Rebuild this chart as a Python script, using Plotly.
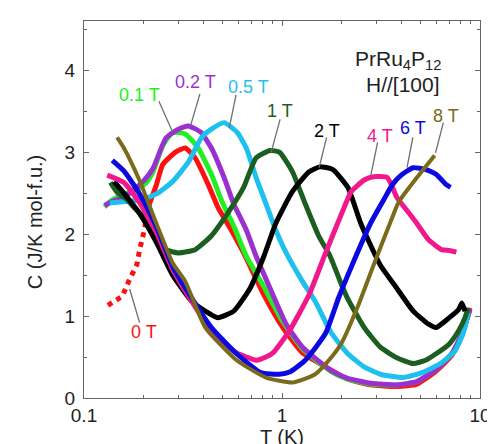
import plotly.graph_objects as go
import numpy as np

# ---------------- data ----------------
fields = ["0 T", "0.1 T", "0.2 T", "0.5 T", "1 T", "2 T", "4 T", "6 T", "8 T"]
colors = ["#FF1010", "#22EE22", "#9B30D0", "#1EC0F0", "#1B5E20", "#000000",
          "#F0188C", "#0A0AE0", "#7A6A1A"]

T_0_low = [0.132, 0.156, 0.168, 0.178, 0.185, 0.191, 0.2, 0.214]
C_0_low = [1.13, 1.24, 1.42, 1.54, 1.63, 1.81, 2.01, 2.37]
T_0 = [0.214, 0.232, 0.25, 0.29, 0.325, 0.364, 0.423, 0.474, 0.554, 0.64, 0.81,
       1.01, 1.27, 1.66, 2.15, 2.8, 3.8, 4.8, 6.0, 7.2, 8.1, 8.9]
C_0 = [2.37, 2.6, 2.85, 3.0, 3.05, 2.93, 2.61, 2.33, 2.05, 1.77, 1.26,
       0.86, 0.55, 0.38, 0.23, 0.16, 0.14, 0.17, 0.33, 0.52, 0.76, 1.1]

T_01 = [0.127, 0.136, 0.147, 0.165, 0.185, 0.205, 0.223, 0.25, 0.28, 0.325, 0.377,
        0.44, 0.495, 0.57, 0.66, 0.8, 1.0, 1.27, 1.78, 2.15, 2.8, 3.8, 4.8, 6.0,
        7.2, 8.1, 8.9]
C_01 = [2.33, 2.4, 2.45, 2.5, 2.55, 2.62, 2.76, 3.08, 3.24, 3.22, 3.05,
        2.73, 2.41, 2.1, 1.73, 1.38, 0.95, 0.6, 0.32, 0.23, 0.17, 0.16, 0.2, 0.35,
        0.54, 0.78, 1.08]

T_02 = [0.127, 0.14, 0.16, 0.18, 0.2, 0.223, 0.259, 0.3, 0.337, 0.39, 0.44, 0.51,
        0.57, 0.66, 0.74, 0.87, 1.05, 1.27, 1.78, 2.15, 2.8, 3.8, 4.8, 6.0, 7.2,
        8.1, 8.9]
C_02 = [2.35, 2.4, 2.45, 2.55, 2.65, 2.8, 3.17, 3.28, 3.32, 3.24, 3.05, 2.69,
        2.37, 2.05, 1.73, 1.34, 0.9, 0.62, 0.33, 0.24, 0.18, 0.16, 0.2, 0.35, 0.54,
        0.78, 1.08]

T_05 = [0.135, 0.17, 0.2, 0.232, 0.28, 0.337, 0.39, 0.44, 0.51, 0.594, 0.66, 0.74,
        0.83, 0.93, 1.05, 1.27, 1.47, 1.78, 2.15, 2.6, 3.14, 4.1, 5.1, 6.4, 7.5,
        8.3, 8.7]
C_05 = [2.38, 2.4, 2.43, 2.49, 2.64, 2.88, 3.17, 3.28, 3.36, 3.24, 3.05, 2.69,
        2.37, 2.05, 1.77, 1.42, 1.18, 0.79, 0.54, 0.38, 0.29, 0.25, 0.31, 0.43, 0.58,
        0.82, 1.04]

T_1 = [0.136, 0.147, 0.165, 0.178, 0.2, 0.23, 0.26, 0.3, 0.364, 0.44, 0.53, 0.64,
       0.74, 0.87, 0.97, 1.13, 1.31, 1.53, 1.75, 2.0, 2.15, 2.6, 3.14, 3.8, 4.6,
       5.3, 6.0, 7.0, 7.8, 8.4, 8.7]
C_1 = [2.63, 2.51, 2.42, 2.33, 2.21, 2.0, 1.81, 1.77, 1.81, 1.98, 2.25, 2.57,
       2.93, 3.02, 3.0, 2.76, 2.37, 1.98, 1.73, 1.38, 1.21, 0.86, 0.62, 0.49, 0.42,
       0.46, 0.54, 0.66, 0.82, 0.98, 1.1]

T_2 = [0.142, 0.159, 0.191, 0.232, 0.28, 0.35, 0.41, 0.474, 0.57, 0.69, 0.81, 0.93,
       1.13, 1.37, 1.55, 1.8, 2.15, 2.5, 3.14, 3.8, 4.6, 5.5, 6.0, 7.0, 7.8, 8.1, 8.4]
C_2 = [2.64, 2.5, 2.25, 1.9, 1.5, 1.18, 1.06, 0.98, 1.06, 1.34, 1.73, 2.13,
       2.52, 2.76, 2.82, 2.79, 2.57, 2.13, 1.62, 1.34, 1.06, 0.9, 0.86, 0.98, 1.08,
       1.16, 1.06]

T_4 = [0.131, 0.159, 0.191, 0.232, 0.28, 0.35, 0.44, 0.51, 0.59, 0.66, 0.74, 0.83,
       0.9, 1.09, 1.37, 1.66, 2.0, 2.24, 2.6, 2.9, 3.4, 3.8, 4.4, 4.8, 5.5, 6.4,
       7.0, 7.6]
C_4 = [2.72, 2.63, 2.38, 2.02, 1.57, 1.18, 0.82, 0.67, 0.55, 0.5, 0.46, 0.5,
       0.55, 0.82, 1.26, 1.77, 2.25, 2.52, 2.66, 2.7, 2.69, 2.45, 2.25, 2.13, 1.93,
       1.81, 1.8, 1.78]

T_6 = [0.139, 0.159, 0.191, 0.232, 0.28, 0.35, 0.44, 0.59, 0.78, 0.97, 1.1, 1.31,
       1.66, 1.93, 2.24, 2.8, 3.25, 3.6, 4.0, 4.6, 5.3, 6.0, 6.7, 7.1]
C_6 = [2.9, 2.77, 2.49, 2.09, 1.61, 1.22, 0.86, 0.54, 0.31, 0.29, 0.32, 0.46,
       0.79, 1.22, 1.6, 2.13, 2.41, 2.6, 2.72, 2.81, 2.79, 2.73, 2.61, 2.57]

T_8 = [0.147, 0.159, 0.191, 0.232, 0.28, 0.325, 0.41, 0.59, 0.83, 1.13, 1.47, 1.78,
       2.0, 2.4, 2.9, 3.6, 3.9, 4.8, 5.9]
C_8 = [3.18, 3.05, 2.65, 2.13, 1.65, 1.42, 0.86, 0.46, 0.25, 0.19, 0.29, 0.5,
       0.67, 1.1, 1.62, 2.2, 2.4, 2.69, 2.96]

# label positions (T, C) and leader lines (start T,C -> end T,C)
label_T = [0.202, 0.191, 0.364, 0.68, 0.978, 1.68, 3.14, 4.58, 6.76]
label_C = [0.80, 3.70, 3.86, 3.80, 3.50, 3.26, 3.20, 3.29, 3.44]
lead_T0 = [0.191, 0.239, 0.385, 0.586, 0.978, 1.68, 3.04, 4.58, 6.53]
lead_C0 = [0.92, 3.62, 3.71, 3.70, 3.40, 3.18, 3.12, 3.18, 3.36]
lead_T1 = [0.170, 0.281, 0.345, 0.542, 0.882, 1.54, 2.80, 4.28, 5.96]
lead_C1 = [1.33, 3.24, 3.32, 3.30, 3.00, 2.81, 2.70, 2.81, 2.99]

series = [(T_0, C_0), (T_01, C_01), (T_02, C_02), (T_05, C_05), (T_1, C_1),
          (T_2, C_2), (T_4, C_4), (T_6, C_6), (T_8, C_8)]

FONT = "Liberation Sans, Arial, sans-serif"

fig = go.Figure()
fig.add_trace(go.Scatter(x=T_0_low, y=C_0_low, mode="lines",
                         line=dict(color=colors[0], width=5, dash="dot"),
                         showlegend=False, hoverinfo="skip"))
for i, (tx, cy) in enumerate(series):
    fig.add_trace(go.Scatter(x=tx, y=cy, mode="lines",
                             line=dict(color=colors[i], width=5 if i != 8 else 4,
                                       shape="spline", smoothing=0.5),
                             showlegend=False))

for i in range(len(fields)):
    fig.add_trace(go.Scatter(x=[lead_T0[i], lead_T1[i]],
                             y=[lead_C0[i], lead_C1[i]],
                             mode="lines", line=dict(color="#6e6e6e", width=1.3),
                             showlegend=False, hoverinfo="skip"))

ann = []
for i, name in enumerate(fields):
    ann.append(dict(x=float(np.log10(label_T[i])), y=label_C[i], xref="x", yref="y",
                    text=name, showarrow=False,
                    font=dict(family=FONT, size=18, color=colors[i])))
ann.append(dict(x=float(np.log10(3.86)), y=4.12, xref="x", yref="y",
                text="PrRu<sub>4</sub>P<sub>12</sub>", showarrow=False,
                font=dict(family=FONT, size=21, color="#222")))
ann.append(dict(x=float(np.log10(4.09)), y=3.82, xref="x", yref="y",
                text="H//[100]", showarrow=False,
                font=dict(family=FONT, size=21, color="#222")))
ann.append(dict(x=-0.125, y=0.465, xref="paper", yref="paper",
                text="C (J/K mol-f.u.)", textangle=-90, showarrow=False,
                xanchor="center", yanchor="middle",
                font=dict(family=FONT, size=20, color="#222")))

axis_common = dict(showline=True, mirror="ticks", linecolor="#666", linewidth=1.2,
                   ticks="inside", ticklen=5, tickcolor="#666", tickwidth=1,
                   showgrid=False, zeroline=False,
                   tickfont=dict(family=FONT, size=19, color="#222"))

fig.update_layout(
    width=495, height=444,
    margin=dict(l=76, r=13, t=13, b=45),
    paper_bgcolor="white", plot_bgcolor="white",
    showlegend=False,
    annotations=ann,
    xaxis=dict(type="log", range=[-1, 1], tickvals=[0.1, 1, 10],
               ticktext=["0.1", "1", "10"],
               minor=dict(ticks="inside", ticklen=3, tickcolor="#666",
                          dtick="D1", showgrid=False),
               title=dict(text="T (K)", standoff=0,
                          font=dict(family=FONT, size=20, color="#222")),
               **axis_common),
    yaxis=dict(range=[0, 4.6], tickvals=[0, 1, 2, 3, 4],
               minor=dict(ticks="inside", ticklen=3, tickcolor="#666",
                          dtick=0.5, showgrid=False),
               ticklabelstandoff=4,
               **axis_common),
)

fig.write_html("out.html")
